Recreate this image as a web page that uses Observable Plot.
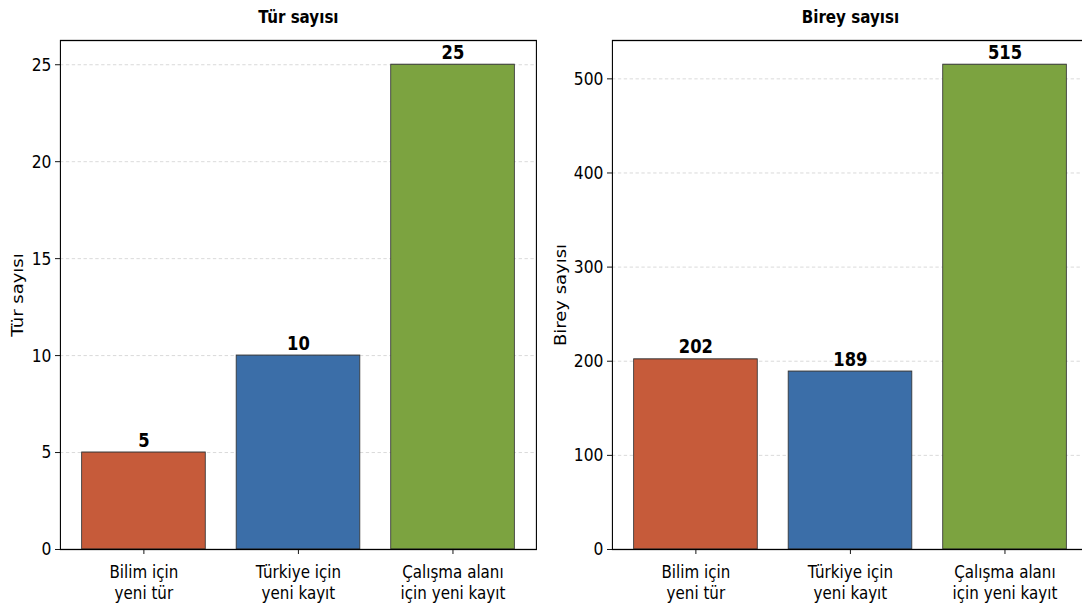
<!DOCTYPE html>
<html>
<head>
<meta charset="utf-8">
<script src="https://cdn.jsdelivr.net/npm/d3@7"></script>
<script src="https://cdn.jsdelivr.net/npm/@observablehq/plot@0.6"></script>
<style>
  html, body { margin: 0; padding: 0; background: white; overflow: hidden; width: 1082px; height: 606px; position: relative; }
  .panel { position: absolute; top: 0; transform-origin: 0 0; }
  .panel svg { max-width: none !important; display: block; }
</style>
</head>
<body>
<div id="left" class="panel"></div>
<div id="right" class="panel"></div>
<script>
const categories = ["Bilim için\nyeni tür", "Türkiye için\nyeni kayıt", "Çalışma alanı\niçin yeni kayıt"];
const turValues = [5, 10, 25];
const bireyValues = [202, 189, 515];
const barColors = ["#C65B3A", "#3B6EA8", "#7CA340"];
const panelTitles = ["Tür sayısı", "Birey sayısı"];
const yLabels = ["Tür sayısı", "Birey sayısı"];
const turTicks = [0, 5, 10, 15, 20, 25];
const bireyTicks = [0, 100, 200, 300, 400, 500];

// horizontal squeeze of the whole figure (the reference is horizontally compressed)
const f = 0.84;
const W = 552 / f;

function panel(title, values, ticks, ylabel, labelDx) {
  const data = categories.map((c, i) => ({cat: c, value: values[i], color: barColors[i]}));
  const maxV = d3.max(values) * 1.05;
  const mL = 60 / f, mR = W - 536 / f;
  return Plot.plot({
    width: W, height: 606,
    marginLeft: mL, marginRight: mR, marginTop: 40, marginBottom: 57,
    style: {fontFamily: "'DejaVu Sans', sans-serif", fontSize: "18px", color: "black", background: "white", overflow: "visible", maxWidth: "none"},
    x: {type: "band", domain: categories, paddingInner: 0.2, paddingOuter: 0.14, round: false, label: null},
    y: {domain: [0, maxV], label: null},
    color: {type: "identity"},
    marks: [
      Plot.gridY(ticks, {stroke: "#bbb", strokeOpacity: 0.6, strokeDasharray: "4,3"}),
      Plot.barY(data, {x: "cat", y: "value", fill: "color", stroke: "#333", strokeWidth: 1}),
      Plot.text(data, {x: "cat", y: "value", text: d => String(d.value), dy: -6, lineAnchor: "bottom", fontWeight: "bold", fontSize: 19.5}),
      Plot.axisY(ticks, {tickSize: 5 / f, tickPadding: 4 / f, label: null, fontSize: 18.5, tickFormat: d => String(d)}),
      Plot.axisX({tickSize: 5, tickPadding: 9, label: null, fontSize: 18, lineHeight: 1.17}),
      Plot.frame({stroke: "black", strokeWidth: 1.3}),
      Plot.text([title], {text: d => d, frameAnchor: "top", dy: -23.3, lineAnchor: "middle", fontWeight: "bold", fontSize: 18}),
      Plot.text([ylabel], {text: d => d, frameAnchor: "left", textAnchor: "middle", dx: labelDx / f, rotate: -90, fontSize: 18})
    ]
  });
}

const left = document.getElementById("left");
const right = document.getElementById("right");
for (const [el, x] of [[left, 0], [right, 552]]) {
  el.style.left = x + "px";
  el.style.width = W + "px";
  el.style.transform = `scaleX(${f})`;
}
left.appendChild(panel(panelTitles[0], turValues, turTicks, yLabels[0], -42));
right.appendChild(panel(panelTitles[1], bireyValues, bireyTicks, yLabels[1], -51));
</script>
</body>
</html>
